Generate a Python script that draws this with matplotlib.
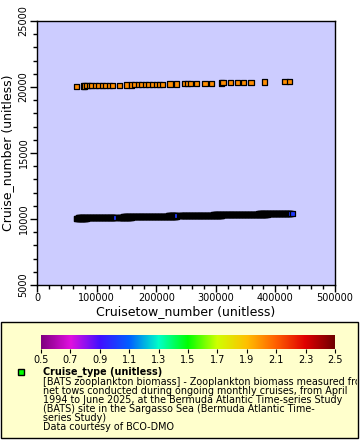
import matplotlib
matplotlib.use("Agg")
import numpy as np
import matplotlib.pyplot as plt
from matplotlib.colors import LinearSegmentedColormap
from matplotlib.patches import Rectangle
from matplotlib.ticker import MultipleLocator
from matplotlib.transforms import Bbox, TransformedBbox

# core cruises (type 1) -> cruise numbers 10xxx, bloom cruises (type 2) -> 20xxx
core_cruise = [
    66, 67, 68, 69, 70, 71, 72, 73, 74, 75, 76, 77, 78, 79, 80, 81, 82, 83, 84, 85,
    86, 87, 88, 89, 90, 91, 92, 93, 94, 95, 96, 97, 98, 99, 100, 101, 102, 103, 104,
    105, 106, 107, 108, 109, 110, 111, 112, 113, 114, 115, 116, 117, 118, 119, 120,
    121, 122, 123, 124, 125, 126, 127, 128, 129, 130, 131, 132, 137, 138, 139, 140,
    141, 142, 143, 144, 145, 146, 147, 148, 149, 150, 151, 152, 153, 154, 155, 156,
    157, 158, 159, 160, 161, 162, 163, 164, 165, 166, 167, 168, 169, 170, 171, 172,
    173, 174, 175, 176, 177, 178, 179, 180, 181, 182, 183, 184, 185, 186, 187, 188,
    189, 190, 191, 192, 193, 194, 195, 196, 197, 198, 199, 200, 201, 202, 203, 204,
    205, 206, 207, 208, 209, 210, 211, 212, 213, 214, 215, 216, 217, 218, 219, 220,
    221, 222, 223, 224, 225, 226, 227, 228, 229, 230, 231, 232, 233, 234, 235, 240,
    241, 242, 243, 244, 245, 246, 247, 248, 249, 250, 251, 252, 253, 254, 255, 256,
    257, 258, 259, 260, 261, 262, 263, 264, 265, 266, 267, 268, 269, 270, 271, 272,
    273, 274, 275, 276, 277, 278, 279, 280, 281, 282, 283, 284, 285, 286, 287, 288,
    289, 290, 291, 292, 293, 294, 295, 296, 297, 298, 299, 300, 301, 302, 303, 304,
    305, 306, 307, 308, 309, 310, 311, 312, 313, 314, 315, 316, 317, 318, 319, 320,
    321, 322, 323, 324, 325, 326, 327, 328, 329, 330, 331, 332, 333, 334, 335, 336,
    337, 338, 339, 340, 341, 342, 343, 344, 345, 346, 347, 348, 349, 350, 351, 352,
    353, 354, 355, 356, 357, 358, 359, 360, 361, 362, 363, 364, 365, 366, 367, 368,
    369, 370, 371, 372, 373, 374, 375, 376, 377, 378, 379, 380, 381, 382, 383, 384,
    385, 386, 387, 388, 389, 390, 391, 392, 393, 394, 395, 396, 397, 398, 399, 400,
    401, 402, 403, 404, 405, 406, 407, 408, 409, 410, 411, 412, 413, 414, 415, 416,
    417, 418, 419, 420, 421, 422, 423, 424, 425, 426, 429]
bloom_cruise = [66, 78, 80, 84, 88, 92, 98, 104, 110, 115, 121, 127, 139, 150,
                158, 164, 170, 176, 182, 188, 194, 200, 205, 210, 223, 234, 247,
                252, 258, 268, 282, 293, 310, 312, 324, 336, 347, 359, 382,
                416, 424]
tow = 1

core_x = [c * 1000 + tow for c in core_cruise]
core_y = [10000 + c for c in core_cruise]
bloom_x = [c * 1000 + tow for c in bloom_cruise]
bloom_y = [20000 + c for c in bloom_cruise]

cbar_ticks = [0.5, 0.7, 0.9, 1.1, 1.3, 1.5, 1.7, 1.9, 2.1, 2.3, 2.5]
cmap_colors = ["#800080", "#e010e0", "#4010ff", "#0060ff", "#00ffc8", "#00ff00",
               "#d0ff00", "#ffc000", "#ff6000", "#e00000", "#700000"]
cmap = LinearSegmentedColormap.from_list(
    "rb", list(zip(np.linspace(0, 1, len(cmap_colors)), cmap_colors)))

fig = plt.figure(figsize=(3.6, 4.4), dpi=100)
ax = fig.add_axes([37/360, 1-285/440, 298/360, 264/440])
ax.set_facecolor("#ccccff")

ax.scatter(core_x, core_y, c=[1]*len(core_x), cmap=cmap, vmin=0.5, vmax=2.5,
           marker="s", s=14, edgecolors="black", linewidths=0.9, zorder=3)
ax.scatter(bloom_x, bloom_y, c=[2]*len(bloom_x), cmap=cmap, vmin=0.5, vmax=2.5,
           marker="s", s=14, edgecolors="black", linewidths=0.9, zorder=3)

ax.set_xlim(0, 500000)
ax.set_ylim(5000, 25000)
ax.xaxis.set_major_locator(MultipleLocator(100000))
ax.xaxis.set_minor_locator(MultipleLocator(20000))
ax.yaxis.set_major_locator(MultipleLocator(5000))
ax.yaxis.set_minor_locator(MultipleLocator(1000))
ax.tick_params(which="major", length=5, width=1, labelsize=7, pad=1)
ax.tick_params(which="minor", length=3, width=1)
for lab in ax.get_yticklabels():
    lab.set_rotation(90)
    lab.set_va("center")
ax.set_xlabel("Cruisetow_number (unitless)", fontsize=9, labelpad=1)
ax.set_ylabel("Cruise_number (unitless)", fontsize=9, labelpad=3)
for sp in ax.spines.values():
    sp.set_linewidth(1)

# legend box
box = Rectangle((1/360, 1-438/440), 357/360, 116/440, transform=fig.transFigure,
                facecolor="#ffffcc", edgecolor="black", linewidth=1, zorder=-1)
fig.patches.append(box)

cax = fig.add_axes([41/360, 1-349/440, 294/360, 14/440])
grad = np.linspace(0.5, 2.5, 256).reshape(1, -1)
cax.imshow(grad, aspect="auto", cmap=cmap, extent=[0.5, 2.5, 0, 1])
cax.set_xticks(cbar_ticks)
cax.set_xticklabels([f"{t:.1f}" for t in cbar_ticks])
cax.set_yticks([])
cax.tick_params(axis="x", length=3, labelsize=7, pad=1)
for sp in cax.spines.values():
    sp.set_visible(False)

fig.patches.append(Rectangle((18/360, 1-375/440), 6/360, 6/440,
                             transform=fig.transFigure, facecolor="#00ff00",
                             edgecolor="black", linewidth=1))

lines = ["[BATS zooplankton biomass] - Zooplankton biomass measured from",
         "net tows conducted during ongoing monthly cruises, from April",
         "1994 to June 2025, at the Bermuda Atlantic Time-series Study",
         "(BATS) site in the Sargasso Sea (Bermuda Atlantic Time-",
         "series Study)",
         "Data courtesy of BCO-DMO"]
ys = [372.3, 381.7, 390.7, 400, 409.3, 418.3, 427.3]
clip = TransformedBbox(Bbox.from_extents(0, 0, 357/360, 1), fig.transFigure)
fig.text(43/360, 1-ys[0]/440, "Cruise_type (unitless)", fontsize=6.9,
         fontweight="bold", va="center")
for s, y in zip(lines, ys[1:]):
    t = fig.text(43/360, 1-y/440, s, fontsize=6.9, va="center")
    t.set_clip_box(clip)
    t.set_clip_on(True)

fig.savefig("out.png", dpi=100)
